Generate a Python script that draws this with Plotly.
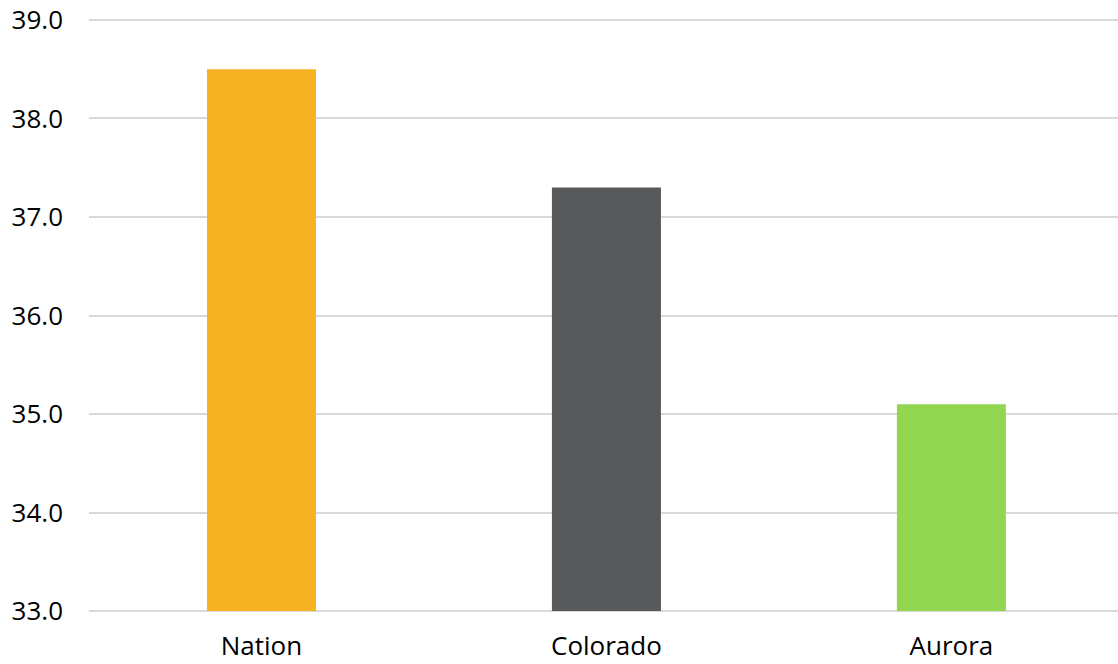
import plotly.graph_objects as go

categories = ["Nation", "Colorado", "Aurora"]
values = [38.5, 37.3, 35.1]
colors = ["#F6B223", "#58595B", "#92D550"]
y_ticks = [33, 34, 35, 36, 37, 38, 39]
y_tick_labels = ["33.0", "34.0", "35.0", "36.0", "37.0", "38.0", "39.0"]
y_base = 33

fig = go.Figure(go.Bar(
    x=categories, y=[v - y_base for v in values], base=y_base,
    marker=dict(color=colors, line=dict(width=0)),
    width=0.316,
))

fig.update_layout(
    width=1118, height=664,
    margin=dict(l=89, r=0, t=17, b=50),
    plot_bgcolor="white", paper_bgcolor="white",
    showlegend=False,
    font=dict(family="Open Sans", size=26, color="#000000"),
)
fig.update_xaxes(range=[-0.5, 2.483], showgrid=False, showline=False, ticks="",
                 ticklabelstandoff=14, automargin=False, ticklabeloverflow="allow")
fig.update_yaxes(range=[32.97, 39.03], tickvals=y_ticks, ticktext=y_tick_labels,
                 showgrid=True, gridcolor="#D9D9D9", gridwidth=1.5,
                 zeroline=False, showline=False, ticks="", ticklabelstandoff=25,
                 automargin=False, ticklabeloverflow="allow")
fig.write_html(
    "out.html",
    config={"displayModeBar": False},
    post_script="document.body.style.margin='0';document.body.style.overflow='hidden';",
)
